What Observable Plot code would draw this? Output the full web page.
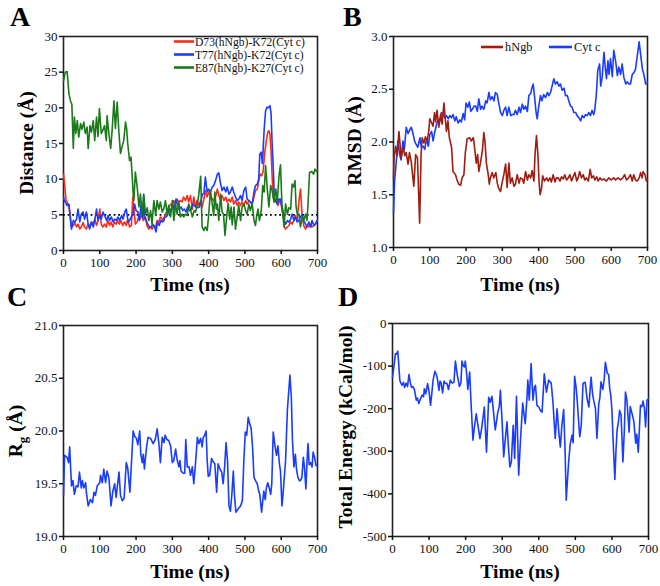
<!DOCTYPE html>
<html><head><meta charset="utf-8">
<script src="https://cdn.jsdelivr.net/npm/d3@7"></script>
<script src="https://cdn.jsdelivr.net/npm/@observablehq/plot@0.6"></script>
<style>
html,body{margin:0;padding:0;background:#fff;}
#chart{position:relative;width:660px;height:586px;overflow:hidden;font-family:"Liberation Serif","Times New Roman",serif;}
.panel{position:absolute;}
#overlay{position:absolute;left:0;top:0;pointer-events:none;}
</style></head><body><div id="chart"></div>
<script>
// ---------- tick values ----------
const timeTicks = [0,100,200,300,400,500,600,700];
const distTicks = [0,5,10,15,20,25,30];
const rmsdTicks = [1.0,1.5,2.0,2.5,3.0];
const rgTicks = [19.0,19.5,20.0,20.5,21.0];
const energyTicks = [0,-100,-200,-300,-400,-500];
const refDistance = [5];

// ---------- Panel A: distances ----------
const d73T = [0,4,7,10,15,19,22,27,31,36,40,45,49,54,58,63,68,72,77,82,86,91,95,100,104,108,113,118,122,127,131,136,140,145,149,154,158,163,168,173,177,182,187,191,194,198,203,207,211,215,220,226,230,235,240,244,249,254,258,263,267,272,277,281,286,290,295,300,304,309,313,318,322,327,331,336,341,345,350,355,359,364,368,373,378,382,387,391,396,400,405,410,414,419,424,428,433,437,442,447,451,456,460,465,469,474,479,483,488,492,497,502,506,511,515,520,525,529,534,538,542,546,550,554,559,563,566,569,572,575,578,582,586,591,595,600,605,608,612,617,621,626,630,635,639,644,649,653,658,662,667,671,676,680,685,690,694,699];
const d73V = [10.7,8.8,7.0,6.8,6.1,4.7,3.3,3.5,3.9,3.3,3.7,3.0,3.3,3.9,3.3,3.0,3.7,3.3,4.0,3.7,4.4,3.5,4.2,5.8,3.7,3.3,3.7,3.3,4.2,3.5,4.0,3.3,4.0,3.7,4.2,3.7,4.2,3.5,4.0,3.5,4.4,3.3,3.5,7.5,5.8,3.7,4.0,4.7,4.4,5.1,4.2,4.7,3.5,3.0,3.3,3.0,3.5,3.3,4.2,4.0,4.7,4.4,4.2,5.1,5.6,6.1,6.5,6.3,7.0,6.5,7.2,6.8,7.0,6.8,7.5,7.0,7.7,6.8,7.7,5.8,7.5,6.1,7.0,6.3,7.0,6.1,7.2,8.4,7.5,8.2,7.7,7.2,7.0,7.5,8.6,7.7,7.0,7.7,7.0,7.5,6.8,7.2,6.8,7.5,6.5,7.0,6.3,6.8,6.3,6.8,6.3,7.0,6.5,7.0,6.8,6.5,7.5,8.4,8.6,9.8,10.7,10.5,11.0,13.5,15.4,16.6,16.8,16.3,14.0,10.3,7.5,6.8,7.2,6.3,7.0,6.5,5.6,3.5,3.0,3.3,3.5,4.0,3.7,4.2,4.9,4.2,7.0,8.6,4.7,3.5,3.0,3.5,3.3,3.7,3.3,3.5,3.7,4.2];

const t77T = [0,2,5,10,15,19,22,27,31,36,40,45,49,54,58,63,68,72,77,82,86,91,95,100,104,109,113,119,123,127,132,137,141,146,150,155,160,164,169,173,178,182,187,191,196,200,205,209,214,218,221,223,228,232,237,242,246,251,255,259,264,268,274,278,283,287,292,296,301,305,310,314,319,324,329,333,338,342,347,352,356,361,365,370,375,379,383,387,391,396,400,405,410,414,419,424,428,432,437,442,447,451,456,460,465,469,474,479,483,488,492,497,502,506,511,515,520,525,529,534,538,541,545,548,550,553,557,561,565,569,572,575,578,581,584,589,593,598,602,608,612,617,621,626,630,635,639,644,649,653,658,662,667,671,676,681,685,690,694,699];
const t77V = [7.5,7.0,6.8,6.3,6.5,4.4,3.0,4.2,4.0,4.4,5.8,4.0,5.1,5.4,4.4,5.4,3.7,3.0,4.0,3.3,4.2,5.8,4.2,4.9,4.4,5.4,4.9,4.2,4.9,4.2,4.7,4.0,4.4,4.2,4.7,4.2,4.9,4.4,5.4,5.8,4.0,4.2,4.7,5.1,6.5,5.6,5.4,4.2,6.5,4.5,7.7,4.7,4.2,3.7,3.3,3.3,3.7,3.3,2.6,4.0,3.5,4.2,4.0,4.7,4.7,5.1,5.8,5.6,6.5,5.8,7.2,6.5,5.8,6.1,5.6,5.8,5.4,6.1,5.6,5.8,6.5,6.3,6.1,6.0,6.1,7.0,7.9,8.0,10.3,8.2,8.6,8.2,8.9,9.1,9.8,10.7,10.9,9.6,8.4,8.9,8.2,8.9,7.9,8.2,8.9,8.2,7.5,7.0,7.2,7.7,7.0,8.4,8.9,7.2,7.0,6.8,6.5,8.2,9.1,9.3,10.0,13.5,13.8,12.2,14.0,17.0,19.6,20.1,20.0,20.3,19.2,15.0,11.7,7.5,7.0,6.5,7.2,7.2,5.8,4.2,3.7,4.2,4.0,4.4,5.1,4.2,4.7,4.0,4.2,4.7,5.1,4.2,3.7,3.3,4.0,3.3,4.2,3.5,3.7,4.2];

const e87T = [0,5,10,15,19,23,27,30,34,38,42,47,51,56,60,65,68,73,77,82,86,91,95,99,104,108,113,118,120,125,130,134,139,143,148,152,157,161,166,171,174,177,182,186,189,192,194,198,203,208,212,217,221,226,231,235,240,244,249,254,258,263,267,272,276,281,286,290,295,300,304,309,313,318,322,327,331,336,341,345,350,355,360,364,369,373,378,382,387,391,396,400,405,410,414,417,421,424,428,433,437,441,445,450,454,458,462,465,470,474,479,483,488,492,497,502,506,511,515,520,525,529,532,536,540,545,549,553,557,562,566,571,575,580,585,589,594,598,602,606,608,612,617,621,626,630,634,638,641,645,649,653,658,662,667,671,674,678,684,689,693,697,700];
const e87V = [23.8,25.0,25.1,22.0,21.0,20.5,14.3,18.7,16.4,18.2,15.9,17.8,17.0,18.0,16.4,17.3,14.3,17.5,16.6,18.2,15.4,18.7,16.0,19.9,16.4,16.8,17.5,15.4,18.9,16.4,14.3,16.8,21.0,17.1,20.8,17.1,13.6,14.5,15.4,18.0,17.1,15.0,12.6,13.1,10.7,8.0,7.0,11.0,8.9,6.1,7.9,4.9,7.9,5.1,6.0,4.2,5.6,3.7,7.0,4.9,7.0,5.8,6.8,5.4,5.8,7.0,4.9,6.3,4.7,7.0,4.2,6.5,5.1,6.8,4.7,5.1,4.7,5.1,4.9,6.5,5.8,4.7,5.6,5.4,6.5,7.9,10.4,3.3,2.8,3.3,2.8,4.9,8.4,6.5,4.9,8.2,5.8,6.5,4.2,7.9,5.4,5.1,2.1,4.9,6.6,4.4,6.1,3.6,6.1,3.0,4.9,6.3,4.2,6.1,6.5,5.6,5.1,6.5,5.6,6.6,4.2,3.5,4.7,5.8,4.2,5.6,9.1,8.2,11.9,8.4,6.1,9.1,8.4,6.8,8.6,6.8,10.5,12.0,6.5,4.2,3.3,6.5,5.1,6.0,5.8,9.3,8.9,9.8,6.1,4.9,5.1,3.3,4.7,4.2,5.1,4.2,6.6,10.9,11.1,10.7,11.4,11.1,11.3];

// ---------- Panel B: RMSD ----------
const hngbT = [0,2,3,6,10,15,18,21,27,31,35,40,44,49,52,56,61,66,72,76,79,84,88,93,97,100,104,109,113,116,120,125,130,134,139,143,146,150,154,160,164,171,175,180,185,189,194,198,203,210,214,220,223,228,232,235,240,245,249,252,256,261,264,267,272,276,282,286,290,295,299,304,309,313,318,322,327,332,336,341,346,350,355,359,364,369,373,378,382,387,390,394,398,401,404,408,411,416,422,426,431,435,440,445,449,454,459,463,468,472,477,482,486,491,495,500,505,509,513,518,523,527,532,537,542,546,551,555,560,564,569,574,580,587,593,600,607,612,619,626,632,637,642,648,653,658,662,667,672,677,681,685,688,693,697,700];
const hngbV = [1.65,1.90,1.88,1.96,1.87,2.10,1.98,1.85,1.95,1.87,1.90,1.79,1.90,1.81,1.71,1.58,1.88,1.85,1.23,1.88,2.04,1.99,2.05,2.01,2.10,2.22,2.19,2.15,2.28,2.19,2.30,2.14,2.26,2.17,2.37,2.21,2.10,2.20,2.04,1.95,1.72,1.69,1.64,1.60,1.59,1.66,1.69,1.90,2.03,2.04,2.01,2.04,1.96,1.80,1.88,1.72,1.81,1.92,2.09,2.01,1.80,1.69,1.60,1.66,1.71,1.66,1.71,1.61,1.56,1.53,1.61,1.69,1.79,1.57,1.80,1.61,1.66,1.58,1.60,1.69,1.61,1.66,1.65,1.61,1.72,1.64,1.69,1.66,1.73,1.63,1.88,2.06,1.88,1.63,1.50,1.56,1.68,1.63,1.66,1.63,1.66,1.62,1.69,1.62,1.66,1.66,1.63,1.67,1.65,1.69,1.64,1.66,1.69,1.63,1.67,1.71,1.63,1.66,1.72,1.66,1.69,1.64,1.66,1.63,1.74,1.66,1.68,1.64,1.67,1.63,1.66,1.64,1.65,1.63,1.66,1.64,1.66,1.64,1.66,1.64,1.66,1.69,1.64,1.66,1.69,1.63,1.69,1.64,1.63,1.66,1.71,1.66,1.72,1.69,1.63,1.65];

const cytcT = [0,3,7,12,17,21,26,30,35,40,44,49,53,58,62,67,73,77,82,86,91,96,100,105,109,114,119,123,128,132,137,142,146,151,155,160,164,169,173,178,183,187,192,196,200,205,209,213,217,222,227,231,235,240,244,249,254,258,263,267,272,277,281,286,290,295,300,304,309,313,318,323,327,332,336,341,346,350,355,359,364,369,373,378,382,385,389,393,396,400,405,409,414,419,424,428,433,437,442,446,451,456,460,465,470,474,479,483,488,492,497,502,506,511,516,520,525,529,534,538,543,547,552,555,559,563,568,571,575,580,584,587,591,594,598,603,607,612,617,621,626,630,635,640,644,649,653,658,663,667,670,674,677,681,686,690,695,700];
const cytcV = [1.33,1.63,1.79,2.01,1.88,1.83,2.01,1.93,2.14,2.08,2.11,2.14,2.09,2.01,1.98,1.95,2.04,1.95,1.96,1.93,2.03,1.96,2.07,2.10,2.01,2.10,2.17,2.21,2.20,2.28,2.26,2.23,2.25,2.22,2.25,2.23,2.26,2.20,2.24,2.18,2.21,2.19,2.27,2.21,2.37,2.33,2.38,2.29,2.31,2.34,2.34,2.29,2.41,2.31,2.34,2.31,2.39,2.37,2.47,2.40,2.43,2.39,2.47,2.45,2.37,2.28,2.25,2.30,2.33,2.25,2.33,2.25,2.26,2.26,2.30,2.26,2.33,2.28,2.36,2.31,2.34,2.29,2.44,2.46,2.52,2.55,2.42,2.28,2.22,2.33,2.44,2.39,2.45,2.42,2.47,2.44,2.47,2.53,2.60,2.55,2.57,2.53,2.55,2.49,2.51,2.44,2.44,2.39,2.34,2.33,2.28,2.28,2.25,2.23,2.20,2.25,2.23,2.26,2.25,2.28,2.25,2.30,2.26,2.31,2.45,2.68,2.74,2.53,2.61,2.85,2.69,2.60,2.77,2.64,2.79,2.62,2.87,2.77,2.63,2.71,2.64,2.74,2.61,2.55,2.57,2.55,2.55,2.64,2.66,2.69,2.77,2.87,2.95,2.83,2.69,2.64,2.55,2.56];

// ---------- Panel C: radius of gyration ----------
const rgT = [0,3,10,14,17,22,26,30,35,40,44,49,52,56,61,63,68,74,80,84,88,93,100,102,107,111,116,120,125,131,136,141,145,153,157,162,167,173,177,183,192,196,201,205,210,213,217,220,223,229,233,240,247,253,258,263,267,272,277,280,285,290,295,300,304,309,313,318,321,324,330,334,337,341,346,350,355,359,364,369,373,378,382,385,389,393,396,399,403,408,412,417,422,426,431,436,440,444,448,452,456,460,464,468,471,475,481,488,493,497,501,505,509,513,517,521,525,529,534,538,541,546,549,552,556,559,563,567,571,574,578,582,587,591,595,598,602,605,612,617,620,624,628,631,635,639,642,646,650,653,657,661,664,668,672,674,677,681,685,688,692,696,700];
const rgV = [19.39,19.77,19.75,19.70,19.85,19.48,19.53,19.40,19.48,19.47,19.61,19.46,19.53,19.46,19.51,19.42,19.29,19.35,19.32,19.42,19.39,19.48,19.51,19.58,19.51,19.64,19.51,19.62,19.56,19.29,19.43,19.50,19.37,19.61,19.39,19.34,19.36,19.70,19.65,19.42,20.00,19.95,19.93,19.87,20.00,19.78,19.70,19.78,19.64,19.85,19.94,19.93,19.88,19.92,20.02,19.88,19.70,19.94,19.89,19.96,19.92,19.91,19.86,19.70,19.72,19.83,19.73,19.66,19.72,19.62,19.60,19.60,19.92,19.66,19.66,19.58,19.66,19.50,19.70,19.94,19.88,19.93,19.85,19.94,19.96,20.00,19.72,19.57,19.58,19.74,19.71,19.69,19.42,19.69,19.64,19.61,19.50,19.66,19.89,19.72,19.29,19.24,19.40,19.62,19.40,19.23,19.26,19.29,19.34,19.72,19.99,19.96,20.13,20.07,20.03,19.85,19.56,19.53,19.50,19.43,19.40,19.23,19.33,19.43,19.35,19.46,19.51,19.46,19.40,19.50,19.99,19.88,19.77,19.86,19.69,19.62,19.29,19.40,19.72,20.20,20.34,20.53,20.31,19.91,19.66,19.78,19.64,19.56,19.53,19.53,19.56,19.75,19.66,19.45,19.78,19.88,19.68,19.70,19.66,19.80,19.75,19.67,19.67];

// ---------- Panel D: total energy ----------
const enT = [0,4,8,11,14.5,17,20,23,26,30,33,37,41,45,49,52,56,60,65,68,72,76,81,85,87,91,96,100,104,108,111,116,119,122,127,130,133,137,141,144,149,153,158,163,168,172,177,183,187,190,194,197,199,203,206,211,215,220,224,229,233,239,244,251,257,263,267,272,277,281,288,292,295,300,304,309,313,317,321,325,330,334,339,345,350,356,360,363,368,370,374,379,384,388,391,395,400,405,409,415,421,427,434,439,442,445,450,455,459,463,468,472,475,479,482,486,491,494,498,502,505,509,512,516,521,527,532,537,540,543,547,550,555,559,564,567,570,575,579,582,585,587,591,594,597,600,604,608,611,614,618,621,625,630,634,637,641,647,650,656,660,662,665,668,672,675,678,682,685,689,692,696,700];
const enV = [-126,-100,-71,-72,-65,-95,-133,-140,-145,-138,-150,-140,-148,-120,-140,-150,-148,-155,-180,-175,-188,-178,-168,-172,-153,-165,-141,-160,-192,-160,-133,-112,-118,-126,-157,-135,-140,-163,-135,-140,-141,-155,-133,-140,-138,-88,-120,-148,-140,-88,-100,-102,-88,-120,-155,-114,-190,-274,-243,-212,-235,-270,-245,-196,-302,-173,-185,-171,-215,-250,-208,-195,-157,-235,-313,-266,-231,-290,-337,-325,-239,-317,-171,-356,-274,-187,-215,-235,-170,-133,-180,-94,-180,-150,-145,-192,-196,-205,-208,-118,-161,-133,-140,-188,-230,-270,-200,-258,-290,-240,-202,-300,-415,-360,-321,-282,-262,-280,-124,-150,-180,-230,-266,-240,-140,-138,-176,-196,-160,-126,-165,-180,-200,-270,-188,-175,-137,-155,-130,-91,-105,-116,-120,-153,-170,-204,-290,-366,-300,-251,-230,-204,-215,-325,-250,-161,-180,-255,-195,-215,-230,-251,-281,-260,-302,-250,-192,-195,-182,-200,-243,-180,-177];

// ---------- helpers ----------
const rows = (t, v) => t.map((x, i) => ({t: x, v: v[i]}));
const chart = document.getElementById("chart");

function panel(cfg) {
  const marks = [
    Plot.frame({stroke: "#222", strokeWidth: 1.6}),
    Plot.axisX({ticks: timeTicks, tickSize: 4, tickPadding: 3, strokeWidth: 1.5, label: null, tickFormat: d => String(d)}),
    Plot.axisY({ticks: cfg.yTicks, tickSize: 4, tickPadding: 2, strokeWidth: 1.5, label: null, tickFormat: cfg.yFmt})
  ];
  if (cfg.ref) marks.push(Plot.ruleY(cfg.ref, {stroke: "#000", strokeWidth: 1.8, strokeDasharray: "1.8,2.8"}));
  for (const s of cfg.series) {
    marks.push(Plot.line(rows(s.t, s.v), {x: "t", y: "v", stroke: s.color, strokeWidth: 1.6, strokeLinejoin: "round"}));
  }
  const svg = Plot.plot({
    width: cfg.w, height: cfg.h,
    marginTop: cfg.m[0], marginRight: cfg.m[1], marginBottom: cfg.m[2], marginLeft: cfg.m[3],
    x: {domain: [0, 700]},
    y: {domain: cfg.yDomain},
    style: {fontFamily: '"Liberation Serif","Times New Roman",serif', fontSize: "13px", color: "#111", background: "transparent", overflow: "visible"},
    marks
  });
  const div = document.createElement("div");
  div.className = "panel";
  div.style.left = cfg.left + "px";
  div.style.top = cfg.top + "px";
  div.appendChild(svg);
  chart.appendChild(div);
}

panel({left: 0, top: 0, w: 330, h: 290, m: [36, 13, 40, 63], yDomain: [0, 30], yTicks: distTicks, yFmt: d => String(d), ref: refDistance,
  series: [{t: d73T, v: d73V, color: "#ff2a1a"}, {t: t77T, v: t77V, color: "#1a3cff"}, {t: e87T, v: e87V, color: "#1a7a1a"}]});
panel({left: 330, top: 0, w: 330, h: 290, m: [36, 13, 43, 63], yDomain: [1, 3], yTicks: rmsdTicks, yFmt: d => d.toFixed(1),
  series: [{t: cytcT, v: cytcV, color: "#1a3cff"}, {t: hngbT, v: hngbV, color: "#a01b10"}]});
panel({left: 0, top: 290, w: 330, h: 296, m: [35, 13, 50, 63], yDomain: [19, 21], yTicks: rgTicks, yFmt: d => d.toFixed(1),
  series: [{t: rgT, v: rgV, color: "#1a3cff"}]});
panel({left: 330, top: 290, w: 330, h: 296, m: [33, 12, 50, 62], yDomain: [-500, 0], yTicks: energyTicks, yFmt: d => d.toFixed(0),
  series: [{t: enT, v: enV, color: "#1a3cff"}]});

// ---------- overlay: panel letters, axis titles, legends ----------
const legendA = [{label: "D73(hNgb)-K72(Cyt c)", color: "#ff2a1a"}, {label: "T77(hNgb)-K72(Cyt c)", color: "#1a3cff"}, {label: "E87(hNgb)-K27(Cyt c)", color: "#1a7a1a"}];
const legendB = [{label: "hNgb", color: "#a01b10"}, {label: "Cyt c", color: "#1a3cff"}];

const ov = d3.select(chart).append("svg").attr("id", "overlay").attr("width", 660).attr("height", 586)
  .style("font-family", '"Liberation Serif","Times New Roman",serif');

const letters = [["A", 10, 26], ["B", 343, 26], ["C", 7, 306], ["D", 338, 306]];
for (const [s, x, y] of letters) ov.append("text").attr("x", x).attr("y", y).attr("font-size", 28).attr("font-weight", "bold").text(s);

const timeTitles = [[190, 291], [520, 291], [190, 578], [520, 578]];
for (const [x, y] of timeTitles) ov.append("text").attr("x", x).attr("y", y).attr("text-anchor", "middle").attr("font-size", 19.5).attr("font-weight", "bold").text("Time (ns)");

function yTitle(x, y) {
  return ov.append("text").attr("transform", `translate(${x},${y}) rotate(-90)`).attr("text-anchor", "middle").attr("font-size", 19.5).attr("font-weight", "bold");
}
yTitle(33, 143).text("Distance (Å)");
yTitle(361, 141).text("RMSD (Å)");
yTitle(352, 427).text("Total Energy (kCal/mol)");
const rg = yTitle(22, 431);
rg.append("tspan").text("R");
rg.append("tspan").attr("font-size", 13).attr("dy", 5).text("g");
rg.append("tspan").attr("dy", -5).text(" (Å)");

legendA.forEach((d, i) => {
  const y = 41.5 + i * 13;
  ov.append("line").attr("x1", 174).attr("x2", 194).attr("y1", y).attr("y2", y).attr("stroke", d.color).attr("stroke-width", 2.6);
  ov.append("text").attr("x", 195).attr("y", y + 4).attr("font-size", 11.6).attr("fill", "#111").text(d.label);
});
const legBx = [[481, 503, 505], [549, 572, 574]];
legendB.forEach((d, i) => {
  const [x1, x2, tx] = legBx[i];
  ov.append("line").attr("x1", x1).attr("x2", x2).attr("y1", 47).attr("y2", 47).attr("stroke", d.color).attr("stroke-width", 2.6);
  ov.append("text").attr("x", tx).attr("y", 51.2).attr("font-size", 12.4).attr("fill", "#111").text(d.label);
});
</script></body></html>
